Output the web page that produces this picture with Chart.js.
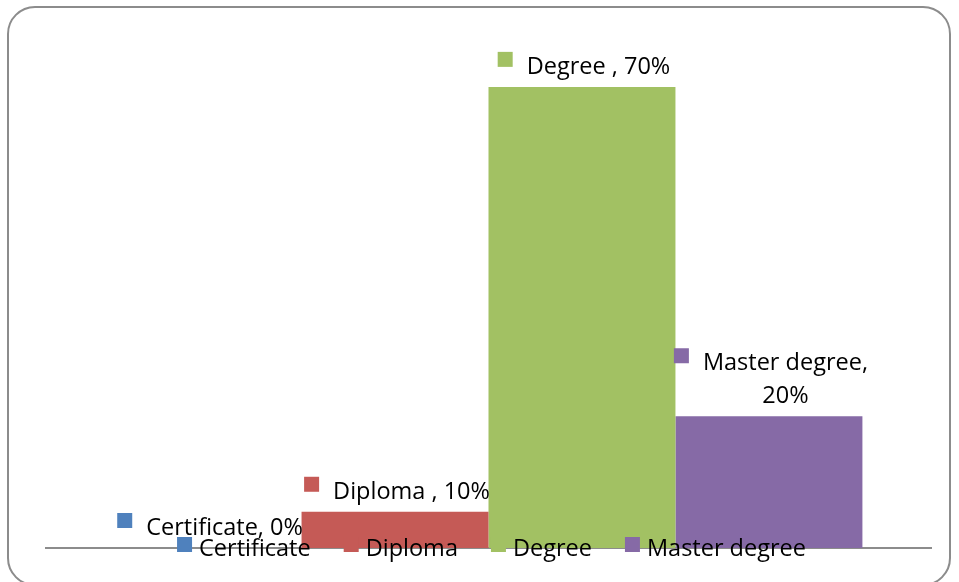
<!DOCTYPE html>
<html>
<head>
<meta charset="utf-8">
<script src="https://cdn.jsdelivr.net/npm/chart.js@4/dist/chart.umd.min.js"></script>
<style>
  html, body { margin: 0; padding: 0; background: #fff; }
  body { width: 959px; height: 582px; position: relative; overflow: hidden; }
  #frame { position: absolute; left: 7px; top: 6px; width: 944px; height: 580px; border: 2px solid #8c8c8c; border-radius: 28px; box-sizing: border-box; }
  #wrap { position: absolute; left: 0; top: 0; width: 959px; height: 582px; }
</style>
</head>
<body>
<div id="frame"></div>
<div id="wrap"><canvas id="c" width="959" height="582"></canvas></div>
<script>
const categories = ['Certificate', 'Diploma', 'Degree', 'Master degree'];
const values = [0, 5.5, 70, 20];
const dataLabelLines = [['Certificate, 0%'], ['Diploma , 10%'], ['Degree , 70%'], ['Master degree,', '20%']];
const colors = ['#4F81BD', '#C55A56', '#A2C163', '#866AA6'];

const FONT = '23.5px "Open Sans"';

const labelPlugin = {
  id: 'labelPlugin',
  afterDatasetsDraw(chart) {
    const ctx = chart.ctx;
    ctx.save();
    ctx.font = FONT;
    ctx.textBaseline = 'alphabetic';
    const lineH = 33;
    chart.data.datasets.forEach((ds, i) => {
      const bar = chart.getDatasetMeta(i).data[0];
      const lines = dataLabelLines[i];
      const widths = lines.map(l => ctx.measureText(l).width);
      const tw = Math.max(...widths);
      const groupW = 15 + 14 + tw;
      const left = bar.x - groupW / 2 + 2;
      const textLeft = left + 29;
      const lastBaseline = bar.y - 13;
      const firstBaseline = lastBaseline - (lines.length - 1) * lineH;
      ctx.fillStyle = colors[i];
      ctx.fillRect(left, firstBaseline - 22, 15, 15);
      ctx.fillStyle = '#000';
      lines.forEach((l, k) => {
        const x = textLeft + (tw - widths[k]) / 2;
        ctx.fillText(l, x, firstBaseline + k * lineH);
      });
    });
    // legend
    const widths = categories.map(c => ctx.measureText(c).width);
    const itemW = widths.map(w => 15 + 7 + w);
    const spacing = 33;
    const total = itemW.reduce((a, b) => a + b, 0) + spacing * (categories.length - 1);
    let x = (chart.chartArea.left + chart.chartArea.right) / 2 - total / 2 + 3;
    const baseY = 556;
    categories.forEach((c, i) => {
      ctx.fillStyle = colors[i];
      ctx.fillRect(x, baseY - 19, 15, 15);
      ctx.fillStyle = '#000';
      ctx.fillText(c, x + 22, baseY);
      x += itemW[i] + spacing;
    });
    ctx.restore();
  }
};

new Chart(document.getElementById('c'), {
  type: 'bar',
  data: {
    labels: [''],
    datasets: categories.map((c, i) => ({
      label: c,
      data: [values[i]],
      backgroundColor: colors[i],
      borderWidth: 0,
      categoryPercentage: 0.845,
      barPercentage: 1.0
    }))
  },
  options: {
    responsive: false,
    animation: false,
    layout: { padding: { left: 46, right: 28, top: 21, bottom: 34 } },
    plugins: { legend: { display: false }, tooltip: { enabled: false } },
    scales: {
      x: {
        grid: { display: false, drawTicks: false },
        border: { display: true, color: '#8c8c8c', width: 2 },
        ticks: { display: false }
      },
      y: {
        display: false,
        min: 0,
        max: 80
      }
    }
  },
  plugins: [labelPlugin]
});
</script>
</body>
</html>
